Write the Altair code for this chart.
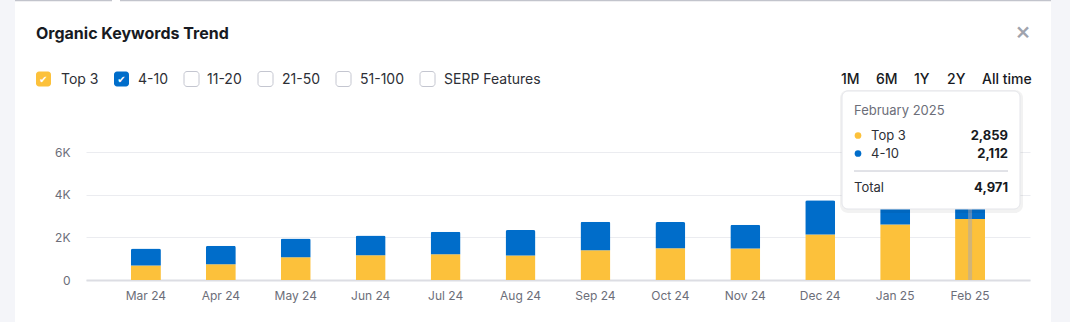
import altair as alt
import pandas as pd

months = ["Mar 24", "Apr 24", "May 24", "Jun 24", "Jul 24", "Aug 24",
          "Sep 24", "Oct 24", "Nov 24", "Dec 24", "Jan 25", "Feb 25"]
top3 = [677, 739, 1068, 1162, 1209, 1148, 1398, 1492, 1478, 2136, 2607, 2859]
pos4_10 = [801, 861, 880, 927, 1050, 1191, 1331, 1223, 1110, 1600, 1743, 2112]
series_names = ["Top 3", "4-10"]
series_colors = ["#FCC13B", "#006DCA"]
y_ticks = [0, 2000, 4000, 6000]
legend_items = ["Top 3", "4-10", "11-20", "21-50", "51-100", "SERP Features"]
range_buttons = ["1M", "6M", "1Y", "2Y", "All time"]
tooltip_title = "February 2025"

FONT = "Inter"
W, H = 944, 128
OX, OY = 86, 152  # plot origin on the page

rows = []
for i, m in enumerate(months):
    rows.append({"month": m, "series": "Top 3", "value": top3[i], "ord": 0})
    rows.append({"month": m, "series": "4-10", "value": pos4_10[i], "ord": 1})
df = pd.DataFrame(rows)

one = alt.Data(values=[{"a": 1}])


def X(px):
    return alt.value(px - OX)


def Y(py):
    return alt.value(py - OY)


def txt(x, y, s, size=14, color="#2d2f36", weight="normal", align="left", font=FONT):
    return alt.Chart(one).mark_text(
        text=s, fontSize=size, color=color, fontWeight=weight, align=align,
        baseline="middle", font=font
    ).encode(x=X(x), y=Y(y))


def box(x1, x2, y1, y2, fill, stroke=None, radius=0, sw=1, opacity=1):
    kw = dict(fill=fill, cornerRadius=radius, opacity=opacity)
    if stroke:
        kw.update(stroke=stroke, strokeWidth=sw)
    return alt.Chart(one).mark_rect(**kw).encode(x=X(x1), x2=X(x2), y=Y(y1), y2=Y(y2))


def hline(x1, x2, y, color, size=1):
    return alt.Chart(one).mark_rule(color=color, strokeWidth=size).encode(
        x=X(x1), x2=X(x2), y=Y(y))


x_enc = alt.X(
    "month:N", sort=months, title=None,
    scale=alt.Scale(paddingInner=0.6, paddingOuter=0.6),
    axis=alt.Axis(labelAngle=0, ticks=False, labelPadding=10, labelFontSize=12,
                  labelColor="#6c6e79", labelFont=FONT, domainColor="#dcdde3",
                  domainWidth=2, grid=False),
)

bars = alt.Chart(df).mark_bar(cornerRadiusTopLeft=2, cornerRadiusTopRight=2).encode(
    x=x_enc,
    y=alt.Y("sum(value):Q", stack="zero", title=None,
            scale=alt.Scale(domain=[0, 6000], nice=False),
            axis=alt.Axis(values=y_ticks, ticks=False, domain=False, labelPadding=16,
                          labelFontSize=12, labelColor="#6c6e79", labelFont=FONT,
                          gridColor="#ebecf0", gridWidth=1,
                          labelExpr="datum.value == 0 ? '0' : datum.value / 1000 + 'K'")),
    color=alt.Color("series:N", scale=alt.Scale(domain=series_names, range=series_colors),
                    legend=None),
    order=alt.Order("ord:Q", sort="ascending"),
)

cross = alt.Chart(df).transform_filter(alt.datum.month == months[-1]).mark_rule(
    color="#a8aab3", opacity=0.3, strokeWidth=4
).encode(x=alt.X("month:N", sort=months), y=alt.value(0), y2=alt.value(H))

layers = [bars, cross]

# page chrome
layers.append(box(0, 15, 0, 322, "#f4f5f9"))
layers.append(box(1051, 1070, 0, 322, "#f4f5f9"))
layers.append(hline(15, 112, 0.5, "#c2c4cc", 1.5))
layers.append(hline(120, 1051, 0.5, "#c2c4cc", 1.5))

# title and close
layers.append(txt(36, 33.5, "Organic Keywords Trend", size=16, color="#171a22", weight="bold"))
layers.append(txt(1023, 32, "×", size=24, color="#a0a3ad", align="center", weight=500))

# legend checkboxes
box_x = [36, 114, 184, 258, 336, 420]
text_x = [61, 138, 207, 282, 360, 444]
for i, name in enumerate(legend_items):
    bx = box_x[i]
    if i < 2:
        layers.append(box(bx, bx + 15, 71.5, 86.5, series_colors[i], radius=3))
        layers.append(txt(bx + 7.5, 79.5, "✔", size=10, color="#ffffff",
                          align="center", font="DejaVu Sans"))
    else:
        layers.append(box(bx, bx + 15, 71.5, 86.5, "#ffffff", stroke="#c4c6d0", radius=3))
    layers.append(txt(text_x[i], 79.5, name, size=14, color="#2d2f36"))

# range buttons
btn_x = [841, 876, 914, 947, 982]
for bx, b in zip(btn_x, range_buttons):
    layers.append(txt(bx, 79.5, b, size=14, color="#171a22", weight=500))

# tooltip
tot = top3[-1] + pos4_10[-1]
layers.append(box(840, 1023, 90, 213, "#000000", radius=8, opacity=0.05))
layers.append(box(842, 1020, 91, 209, "#ffffff", stroke="#e4e5ea", radius=6))
layers.append(txt(854, 111, tooltip_title, size=13, color="#6c6e79"))
layers.append(alt.Chart(one).mark_circle(size=45, color=series_colors[0], opacity=1).encode(
    x=X(858), y=Y(135.5)))
layers.append(alt.Chart(one).mark_circle(size=45, color=series_colors[1], opacity=1).encode(
    x=X(858), y=Y(153.5)))
layers.append(txt(871, 136, series_names[0], size=13, color="#2d2f36"))
layers.append(txt(871, 154, series_names[1], size=13, color="#2d2f36"))
layers.append(txt(1008, 136, f"{top3[-1]:,}", size=13, color="#171a22", weight="bold", align="right"))
layers.append(txt(1008, 154, f"{pos4_10[-1]:,}", size=13, color="#171a22", weight="bold", align="right"))
layers.append(hline(854, 1008, 171, "#c4c6d0"))
layers.append(txt(854, 188, "Total", size=13, color="#2d2f36"))
layers.append(txt(1008, 188, f"{tot:,}", size=13, color="#171a22", weight="bold", align="right"))

chart = alt.layer(*layers).properties(
    width=W, height=H,
    padding={"left": OX, "top": OY, "right": 1070 - OX - W, "bottom": 322 - OY - H},
    autosize=alt.AutoSizeParams(type="none"),
    background="#ffffff",
).configure_view(stroke=None)

chart.save("out.html", embed_options={"renderer": "svg", "actions": False})
